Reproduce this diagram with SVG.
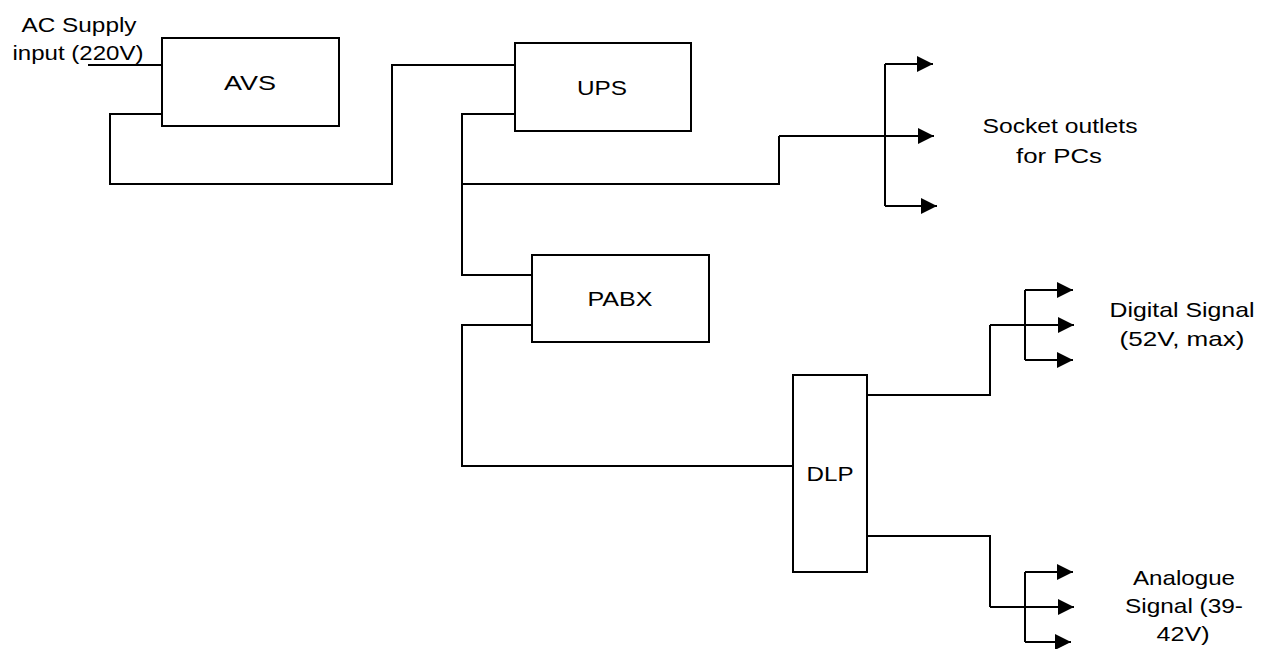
<svg xmlns="http://www.w3.org/2000/svg" width="1271" height="649" viewBox="0 0 1271 649">
<style>
.box{fill:#fff;stroke:#000;stroke-width:2}
.ln{fill:none;stroke:#000;stroke-width:2}
.ar{fill:none;stroke:#000;stroke-width:2;marker-end:url(#ah)}
text{font-family:"Liberation Sans",Arial,sans-serif;font-size:21px;fill:#000;text-anchor:middle}
</style>
<defs>
<marker id="ah" markerUnits="userSpaceOnUse" markerWidth="16" markerHeight="16" refX="16" refY="8" orient="auto">
<path d="M0,0 L16,8 L0,16 z" fill="#000"/>
</marker>
</defs>
<rect width="1271" height="649" fill="#fff"/>
<g id="connectors">
<path class="ln" d="M88,65 H162"/>
<path class="ln" d="M162,114 H110 V184 H392 V65 H515"/>
<path class="ln" d="M515,114 H462 V275 H532"/>
<path class="ln" d="M462,184 H779 V136"/>
<path class="ar" d="M779,136 H934"/>
<path class="ln" d="M885,206 V64"/>
<path class="ar" d="M885,64 H933"/>
<path class="ar" d="M885,206 H937"/>
<path class="ln" d="M532,325 H462 V466 H793"/>
<path class="ln" d="M867,395 H990 V325"/>
<path class="ar" d="M990,325 H1074"/>
<path class="ln" d="M1025,360 V290"/>
<path class="ar" d="M1025,290 H1073"/>
<path class="ar" d="M1025,360 H1073"/>
<path class="ln" d="M867,536 H990 V607"/>
<path class="ar" d="M990,607 H1074"/>
<path class="ln" d="M1025,642 V572"/>
<path class="ar" d="M1025,572 H1073"/>
<path class="ar" d="M1025,642 H1071"/>
</g>
<g id="label-input">
<text x="79" y="32" textLength="115" lengthAdjust="spacingAndGlyphs">AC Supply</text>
<text x="78" y="60" textLength="131" lengthAdjust="spacingAndGlyphs">input (220V)</text>
</g>
<g id="avs">
<rect class="box" x="162" y="38" width="177" height="88"/>
<text x="250" y="90" textLength="52" lengthAdjust="spacingAndGlyphs">AVS</text>
</g>
<g id="ups">
<rect class="box" x="515" y="43" width="176" height="88"/>
<text x="602" y="95" textLength="50" lengthAdjust="spacingAndGlyphs">UPS</text>
</g>
<g id="pabx">
<rect class="box" x="532" y="255" width="177" height="87"/>
<text x="620" y="306" textLength="65" lengthAdjust="spacingAndGlyphs">PABX</text>
</g>
<g id="dlp">
<rect class="box" x="793" y="375" width="74" height="197"/>
<text x="830" y="481" textLength="47" lengthAdjust="spacingAndGlyphs">DLP</text>
</g>
<g id="socket-outlets">
<text x="1060" y="133" textLength="155" lengthAdjust="spacingAndGlyphs">Socket outlets</text>
<text x="1059" y="163" textLength="86" lengthAdjust="spacingAndGlyphs">for PCs</text>
</g>
<g id="digital-signal">
<text x="1182" y="317" textLength="145" lengthAdjust="spacingAndGlyphs">Digital Signal</text>
<text x="1182" y="346" textLength="125" lengthAdjust="spacingAndGlyphs">(52V, max)</text>
</g>
<g id="analogue-signal">
<text x="1184" y="585" textLength="102" lengthAdjust="spacingAndGlyphs">Analogue</text>
<text x="1184" y="613" textLength="118" lengthAdjust="spacingAndGlyphs">Signal (39-</text>
<text x="1183" y="641" textLength="53" lengthAdjust="spacingAndGlyphs">42V)</text>
</g>
</svg>
